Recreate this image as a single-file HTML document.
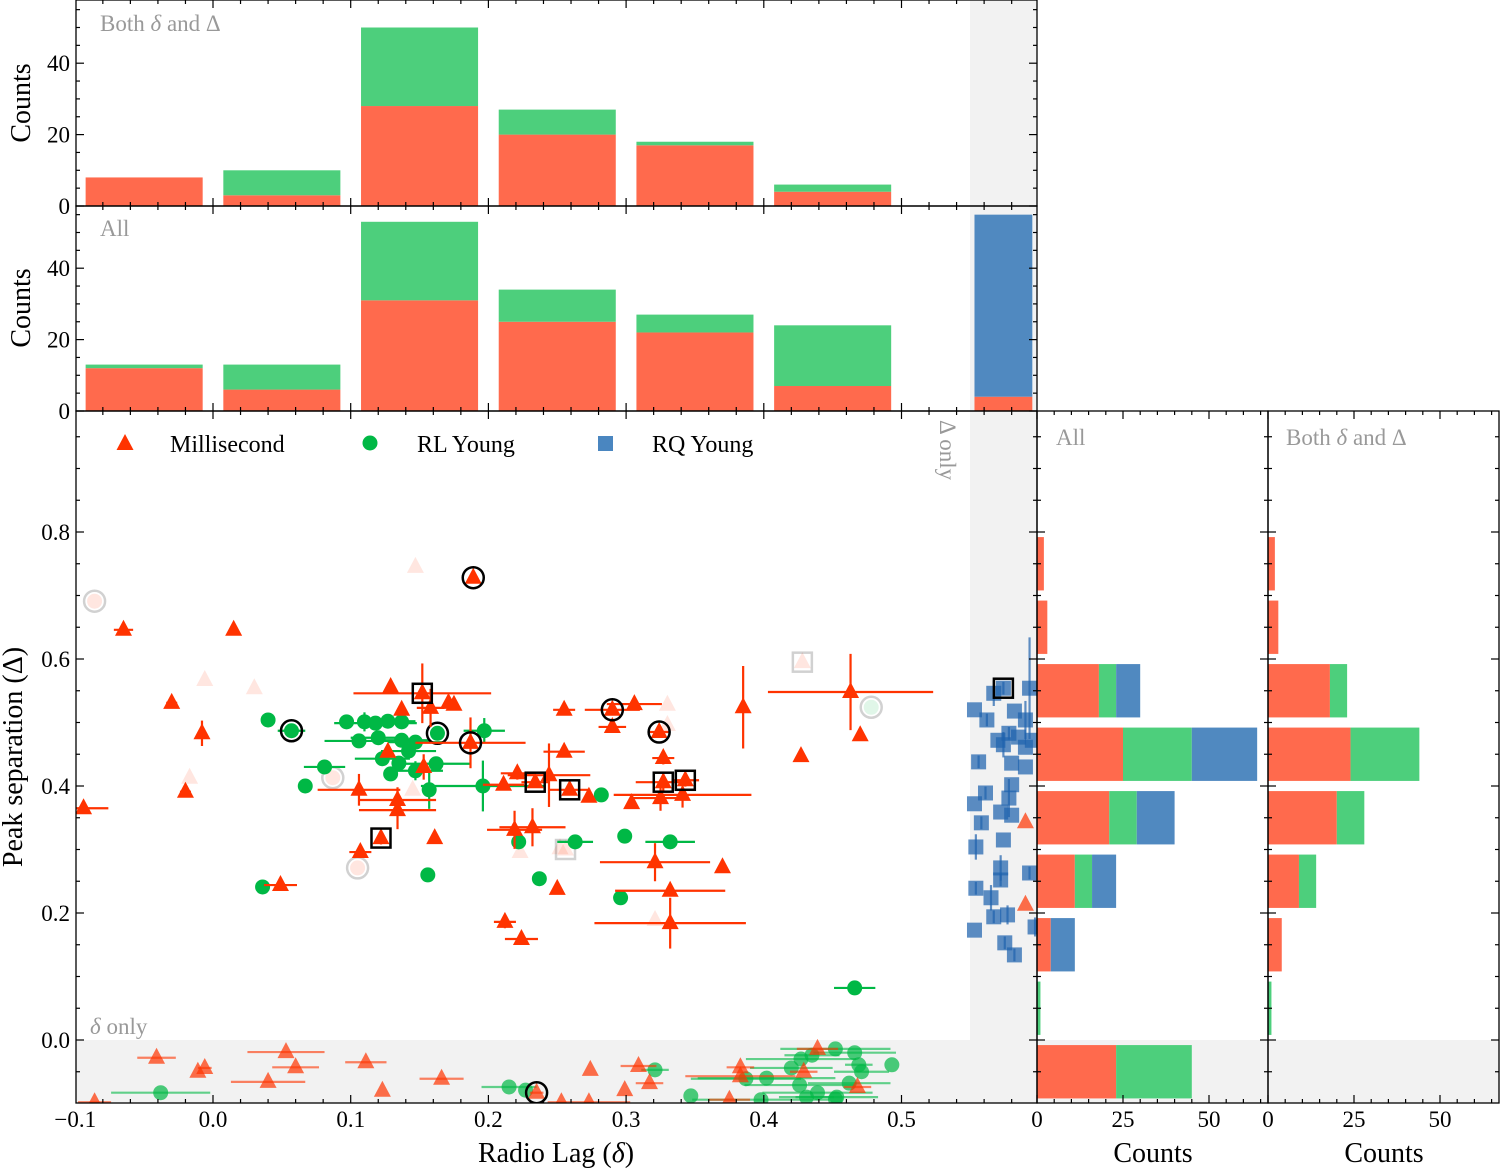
<!DOCTYPE html>
<html><head><meta charset="utf-8"><title>Radio lag vs peak separation</title>
<style>
html,body{margin:0;padding:0;background:#fff;}
svg{display:block;font-family:"Liberation Serif","DejaVu Serif",serif;}
</style></head>
<body>
<svg id="fig" width="1500" height="1170" viewBox="0 0 1500 1170" xmlns="http://www.w3.org/2000/svg">
<g id="bg"></g>
<g id="marks"></g>
<g id="axes"></g>
<g id="labels">
  <text x="100" y="31" font-size="23" fill="#999">Both <tspan font-style="italic">δ</tspan> and Δ</text>
  <text x="100" y="236" font-size="23" fill="#999">All</text>
  <text x="1056" y="445" font-size="23" fill="#999">All</text>
  <text x="1286" y="445" font-size="23" fill="#999">Both <tspan font-style="italic">δ</tspan> and Δ</text>
  <text x="90" y="1034" font-size="23" fill="#999"><tspan font-style="italic">δ</tspan> only</text>
  <text transform="translate(940,420) rotate(90)" font-size="23" fill="#999">Δ only</text>
  <text transform="translate(30,103) rotate(-90)" font-size="28" text-anchor="middle">Counts</text>
  <text transform="translate(30,308) rotate(-90)" font-size="28" text-anchor="middle">Counts</text>
  <text transform="translate(22,757) rotate(-90)" font-size="28" text-anchor="middle">Peak separation (Δ)</text>
  <text x="556" y="1162" font-size="28" text-anchor="middle">Radio Lag (<tspan font-style="italic">δ</tspan>)</text>
  <text x="1153" y="1162" font-size="28" text-anchor="middle">Counts</text>
  <text x="1384" y="1162" font-size="28" text-anchor="middle">Counts</text>
  <g>
    <polygon points="125,434 116.5,450 133.5,450" fill="#ff3300"/>
    <text x="170" y="452" font-size="24">Millisecond</text>
    <circle cx="370" cy="443" r="7.5" fill="#00b845"/>
    <text x="417" y="452" font-size="24">RL Young</text>
    <rect x="598" y="436" width="15" height="15" fill="#4a86c0"/>
    <text x="652" y="452" font-size="24">RQ Young</text>
  </g>
</g>
</svg>
<script>
// ---------- DATA ----------
const topBins = [-0.05, 0.05, 0.15, 0.25, 0.35, 0.45];
const bothMsp = [8, 3, 28, 20, 17, 4];
const bothRl = [0, 7, 22, 7, 1, 2];
const allMsp = [12, 6, 31, 25, 22, 7];
const allRl = [1, 7, 22, 9, 5, 17];
const rqBarX = [0.574];
const rqBarMsp = [4];
const rqBarRq = [51];

const rightBins = [0.75, 0.65, 0.55, 0.45, 0.35, 0.25, 0.15, 0.05, -0.05];
const rAllMsp = [2, 3, 18, 25, 21, 11, 4, 0, 23];
const rAllRl = [0, 0, 5, 20, 8, 5, 0, 1, 22];
const rAllRq = [0, 0, 7, 19, 11, 7, 7, 0, 0];
const rBothMsp = [2, 3, 18, 24, 20, 9, 4, 0, 0];
const rBothRl = [0, 0, 5, 20, 8, 5, 0, 1, 0];

const mspX = [-0.094,-0.065,-0.030,0.015,-0.008,-0.020,0.049,0.107,0.122,0.106,0.134,0.134,0.161,0.129,0.152,0.158,0.171,0.175,0.137,0.189,0.187,0.153,0.127,0.211,0.221,0.219,0.255,0.290,0.290,0.306,0.324,0.327,0.255,0.234,0.244,0.259,0.273,0.304,0.327,0.343,0.325,0.341,0.232,0.321,0.370,0.250,0.332,0.212,0.224,0.332,0.385,0.427,0.463,0.470,0.590,0.590];
const mspY = [0.365,0.646,0.531,0.646,0.483,0.391,0.244,0.296,0.318,0.394,0.378,0.362,0.318,0.556,0.546,0.523,0.531,0.528,0.520,0.728,0.468,0.430,0.454,0.402,0.420,0.331,0.520,0.520,0.493,0.529,0.485,0.444,0.454,0.406,0.417,0.394,0.383,0.373,0.406,0.409,0.381,0.386,0.335,0.280,0.272,0.238,0.235,0.186,0.159,0.184,0.524,0.447,0.548,0.480,0.343,0.213];
const mspXerr = [0.018,0.007,0.004,0,0,0.004,0.012,0.008,0,0.03,0.028,0.028,0,0,0.05,0.01,0,0,0,0,0.04,0,0,0.015,0.012,0.02,0.008,0.02,0.01,0.02,0.008,0.008,0.015,0.01,0.03,0.015,0,0,0.02,0.01,0.02,0.05,0.024,0.04,0,0,0.04,0.008,0.012,0.055,0,0,0.06,0,0,0];
const mspYerr = [0,0,0,0,0.02,0,0,0,0.01,0.025,0.02,0.03,0,0,0.047,0.03,0,0,0,0.008,0.04,0.02,0,0,0.01,0.03,0,0,0,0,0,0.01,0,0,0.05,0,0,0,0.015,0.01,0.02,0.02,0.03,0.03,0,0,0,0.01,0,0.04,0.065,0,0.06,0,0,0];
const mspCircled = [19, 20, 27, 30];
const mspBoxed = [8, 14, 33, 35, 38, 39];

const mspDX = [-0.041,-0.011,-0.006,0.053,0.060,0.040,0.111,0.123,0.166,0.235,0.253,0.273,0.274,0.299,0.309,0.317,0.383,0.383,0.375,0.429,0.439,0.468,-0.086];
const mspDY = [-0.028,-0.050,-0.044,-0.019,-0.043,-0.066,-0.035,-0.080,-0.061,-0.083,-0.098,-0.098,-0.047,-0.079,-0.041,-0.068,-0.043,-0.057,-0.094,-0.050,-0.014,-0.074,-0.098];
const mspDXerr = [0.014,0,0.005,0.028,0.017,0.027,0.015,0,0.016,0.005,0,0.03,0,0,0.013,0.01,0.01,0.04,0.015,0.01,0.015,0.01,0.012];

const rlX = [0.040,0.057,0.081,0.067,0.097,0.110,0.118,0.127,0.137,0.106,0.120,0.137,0.147,0.142,0.163,0.197,0.123,0.135,0.129,0.147,0.162,0.157,0.196,0.156,0.036,0.222,0.282,0.263,0.299,0.332,0.237,0.296,0.466];
const rlY = [0.504,0.487,0.430,0.400,0.501,0.501,0.499,0.502,0.501,0.471,0.476,0.472,0.469,0.455,0.483,0.487,0.443,0.436,0.419,0.424,0.435,0.394,0.400,0.260,0.241,0.312,0.386,0.312,0.321,0.312,0.254,0.224,0.082];
const rlXerr = [0,0.01,0.015,0,0,0,0.03,0.02,0.01,0.025,0.02,0.02,0.02,0.02,0,0.015,0.02,0,0,0.02,0.025,0,0.045,0,0,0,0.005,0.013,0,0.018,0,0,0.015];
const rlYerr = [0,0,0,0,0,0.015,0,0,0,0.01,0,0,0,0,0,0.02,0,0,0,0.015,0,0.03,0.04,0,0,0,0,0,0,0.01,0,0,0];
const rlCircled = [1, 14];

const rlDX = [-0.038,0.215,0.227,0.321,0.347,0.387,0.402,0.398,0.420,0.427,0.426,0.431,0.439,0.452,0.466,0.469,0.471,0.462,0.453,0.452,0.493,0.435];
const rlDY = [-0.083,-0.074,-0.079,-0.047,-0.088,-0.061,-0.060,-0.094,-0.044,-0.030,-0.071,-0.090,-0.083,-0.014,-0.020,-0.039,-0.050,-0.068,-0.090,-0.093,-0.039,-0.024];
const rlDXerr = [0.036,0.02,0,0.01,0,0.04,0.05,0.05,0.03,0.04,0.04,0.02,0.04,0.04,0.03,0.01,0.02,0.03,0.03,0,0,0.02];

const rqX = [0.574,0.567,0.593,0.553,0.562,0.582,0.590,0.570,0.578,0.585,0.595,0.574,0.590,0.556,0.580,0.590,0.580,0.561,0.553,0.578,0.572,0.580,0.558,0.574,0.554,0.572,0.593,0.554,0.565,0.572,0.577,0.567,0.553,0.597,0.575,0.582];
const rqY = [0.554,0.546,0.554,0.520,0.504,0.518,0.504,0.472,0.483,0.477,0.472,0.465,0.461,0.438,0.436,0.430,0.402,0.389,0.372,0.381,0.359,0.354,0.342,0.315,0.304,0.271,0.263,0.239,0.224,0.252,0.197,0.194,0.173,0.178,0.153,0.134];
const rqYerr = [0.01,0.02,0.08,0,0.01,0,0.03,0,0.01,0,0,0.02,0,0.01,0,0,0,0.01,0,0.03,0,0,0.01,0,0.02,0.02,0.01,0.01,0.02,0.01,0.015,0.01,0,0.015,0.01,0.01];
const rqBoxed = [0];

const fadedTriX = [0.147,-0.006,0.030,-0.017,0.330,0.330,0.321,0.223,0.145,0.252];
const fadedTriY = [0.745,0.567,0.554,0.413,0.528,0.496,0.189,0.296,0.394,0.302];
const fadedCircX = [-0.086,0.105,0.478,0.087];
const fadedCircY = [0.691,0.271,0.524,0.413];
const fadedSqX = [0.428,0.256];
const fadedSqY = [0.595,0.300];

const xTicks = [-0.1,0.0,0.1,0.2,0.3,0.4,0.5];
const xTickLabels = ["−0.1","0.0","0.1","0.2","0.3","0.4","0.5"];
const yTicks = [0.0,0.2,0.4,0.6,0.8];
const yTickLabels = ["0.0","0.2","0.4","0.6","0.8"];
const countTicks = [0,20,40];
const rCountTicks = [0,25,50];

// ---------- SCALES ----------
const NS = "http://www.w3.org/2000/svg";
const sx = v => 213 + v * 1377;
const sy = v => 1040 - v * 635;
const h1 = c => 206 - c * 3.57;
const h2 = c => 411 - c * 3.57;
const r1 = c => 1037 + c * 3.44;
const r2 = c => 1268 + c * 3.44;
const RED = "#ff3300", GREEN = "#00b845", BLUE = "#1f62ad";
const HRED = "#ff6a4d", HGREEN = "#4dcf7c", HBLUE = "#5089c0";

function mk(parent, tag, attrs) {
  const el = document.createElementNS(NS, tag);
  for (const k in attrs) el.setAttribute(k, attrs[k]);
  parent.appendChild(el);
  return el;
}
const bg = document.getElementById("bg");
const marks = document.getElementById("marks");
const axes = document.getElementById("axes");

// ---------- GREY BANDS ----------
let b;
b = mk(bg, "rect", {x: 970, y: 0, width: 67, height: 1103, fill: "#f2f2f2"});


b = mk(bg, "rect", {x: 76, y: 1040, width: 894, height: 63, fill: "#f2f2f2"});


b = mk(bg, "rect", {x: 1037, y: 1040, width: 462, height: 63, fill: "#f2f2f2"});



// ---------- TOP HISTOGRAMS ----------
function vbar(x0, w, yb, yt, fill, name) {
  const el = mk(marks, "rect", {x: x0, y: yt, width: w, height: Math.max(0, yb - yt), fill: fill});
  
  
}
topBins.forEach((c, i) => {
  const x0 = sx(c - 0.0425), w = 0.085 * 1377;
  vbar(x0, w, h1(0), h1(bothMsp[i]), HRED, 'both-msp-bar');
  vbar(x0, w, h1(bothMsp[i]), h1(bothMsp[i] + bothRl[i]), HGREEN, 'both-rl-bar');
  vbar(x0, w, h2(0), h2(allMsp[i]), HRED, 'all-msp-bar');
  vbar(x0, w, h2(allMsp[i]), h2(allMsp[i] + allRl[i]), HGREEN, 'all-rl-bar');
});
rqBarX.forEach((c, i) => {
  const x0 = sx(c - 0.021), w = 0.042 * 1377;
  vbar(x0, w, h2(0), h2(rqBarMsp[i]), HRED, 'all-delta-only-msp-bar');
  vbar(x0, w, h2(rqBarMsp[i]), h2(rqBarMsp[i] + rqBarRq[i]), HBLUE, 'all-rq-bar');
});

// ---------- RIGHT HISTOGRAMS ----------
function hbar(xs, c0, c1, yc, fill, name) {
  const yt = sy(yc + 0.042), h = 0.084 * 635;
  const el = mk(marks, "rect", {x: xs(c0), y: yt, width: Math.max(0, xs(c1) - xs(c0)), height: h, fill: fill});
  
  
}
rightBins.forEach((c, i) => {
  hbar(r1, 0, rAllMsp[i], c, HRED, 'right-all-msp-bar');
  hbar(r1, rAllMsp[i], rAllMsp[i] + rAllRl[i], c, HGREEN, 'right-all-rl-bar');
  hbar(r1, rAllMsp[i] + rAllRl[i], rAllMsp[i] + rAllRl[i] + rAllRq[i], c, HBLUE, 'right-all-rq-bar');
  hbar(r2, 0, rBothMsp[i], c, HRED, 'right-both-msp-bar');
  hbar(r2, rBothMsp[i], rBothMsp[i] + rBothRl[i], c, HGREEN, 'right-both-rl-bar');
});

// ---------- SCATTER ----------
const clip = mk(marks, "clipPath", {id: "mainclip"});
mk(clip, "rect", {x: 76, y: 411, width: 961, height: 692});
const sc = mk(marks, "g", {"clip-path": "url(#mainclip)"});



function errbar(x, y, xe, ye, color, op) {
  if (xe > 0) {
    const l = mk(sc, "line", {x1: sx(x - xe), x2: sx(x + xe), y1: sy(y), y2: sy(y), stroke: color, "stroke-width": 2.2, opacity: op});
    
    
  }
  if (ye > 0) {
    const l = mk(sc, "line", {x1: sx(x), x2: sx(x), y1: sy(y - ye), y2: sy(y + ye), stroke: color, "stroke-width": 2.2, opacity: op});
    
    
  }
}
function tri(x, y, fill, op, name) {
  const cx = sx(x), cy = sy(y);
  const el = mk(sc, "polygon", {points: `${cx},${cy - 10} ${cx - 8.5},${cy + 6} ${cx + 8.5},${cy + 6}`, fill: fill, opacity: op});
  
  
}
function circ(x, y, fill, op, name) {
  const el = mk(sc, "circle", {cx: sx(x), cy: sy(y), r: 7.5, fill: fill, opacity: op});
  
  
}
function sq(x, y, fill, op, name) {
  const el = mk(sc, "rect", {x: sx(x) - 7.5, y: sy(y) - 7.5, width: 15, height: 15, fill: fill, opacity: op});
  
  
}
function ring(x, y, col, op) {
  const el = mk(sc, "circle", {cx: sx(x), cy: sy(y), r: 10.5, fill: "none", stroke: col, "stroke-width": 2.5, opacity: op});
  
  
}
function box(x, y, col, op) {
  const el = mk(sc, "rect", {x: sx(x) - 9.5, y: sy(y) - 9.5, width: 19, height: 19, fill: "none", stroke: col, "stroke-width": 2.5, opacity: op});
  
  
}

// faded points
fadedTriX.forEach((x, i) => tri(x, fadedTriY[i], RED, 0.12, 'faded-msp-point'));
fadedCircX.forEach((x, i) => { circ(x, fadedCircY[i], i == 2 ? GREEN : RED, 0.12, 'faded-point'); ring(x, fadedCircY[i], "#000", 0.18); });
fadedSqX.forEach((x, i) => { tri(fadedSqX[i], fadedSqY[i], RED, 0.12, 'faded-msp-point'); box(x, fadedSqY[i], "#000", 0.18); });

// delta-only
rlDX.forEach((x, i) => errbar(x, rlDY[i], rlDXerr[i], 0, GREEN, 0.6));
rlDX.forEach((x, i) => circ(x, rlDY[i], GREEN, 0.7, 'rl-delta-only-point'));
mspDX.forEach((x, i) => errbar(x, mspDY[i], mspDXerr[i], 0, RED, 0.6));
mspDX.forEach((x, i) => tri(x, mspDY[i], RED, 0.7, 'msp-delta-only-point'));
ring(mspDX[9], mspDY[9], "#000", 1);

// RQ
rqX.forEach((x, i) => errbar(x, rqY[i], 0, rqYerr[i], BLUE, 0.7));
rqX.forEach((x, i) => sq(x, rqY[i], BLUE, 0.72, 'rq-point'));
rqBoxed.forEach(i => box(rqX[i], rqY[i], "#000", 1));

// RL main
rlX.forEach((x, i) => errbar(x, rlY[i], rlXerr[i], rlYerr[i], GREEN, 1));
rlX.forEach((x, i) => circ(x, rlY[i], GREEN, 1, 'rl-point'));
rlCircled.forEach(i => ring(rlX[i], rlY[i], "#000", 1));

// MSP main
mspX.forEach((x, i) => errbar(x, mspY[i], mspXerr[i], mspYerr[i], RED, 1));
mspX.forEach((x, i) => tri(x, mspY[i], RED, x > 0.55 ? 0.7 : 1, 'msp-point'));
mspCircled.forEach(i => ring(mspX[i], mspY[i], "#000", 1));
mspBoxed.forEach(i => box(mspX[i], mspY[i], "#000", 1));

// ---------- AXES ----------
function frame(x, y, w, h, name) {
  const el = mk(axes, "rect", {x: x, y: y, width: w, height: h, fill: "none", stroke: "#000", "stroke-width": 1.3});
  
  
}
function tk(x1, y1, x2, y2) {
  const el = mk(axes, "line", {x1: x1, y1: y1, x2: x2, y2: y2, stroke: "#000", "stroke-width": 1.2});
  
  
}
function lbl(x, y, s, anchor, name) {
  const el = mk(axes, "text", {x: x, y: y, "font-size": 23, "text-anchor": anchor});
  el.textContent = s;
  
  
}
frame(76, 0, 961, 206, 'top-hist-both-axes');
frame(76, 206, 961, 205, 'top-hist-all-axes');
frame(76, 411, 961, 692, 'main-scatter-axes');
frame(1037, 411, 231, 692, 'right-hist-all-axes');
frame(1268, 411, 231, 692, 'right-hist-both-axes');

// x ticks (shared by 3 stacked panels)
for (let k = -5; k <= 29; k++) {
  const v = k * 0.02, px = sx(v);
  if (px < 76 || px > 1037) continue;
  const major = k % 5 === 0, L = major ? 8 : 4;
  [[0, 206], [206, 411], [411, 1103]].forEach(([t, bt]) => { tk(px, bt, px, bt - L); tk(px, t, px, t + L); });
}
xTicks.forEach((v, i) => lbl(sx(v), 1127, xTickLabels[i], "middle", 'x-tick-label'));
// main y ticks
for (let k = -2; k <= 19; k++) {
  const v = k * 0.05, py = sy(v);
  if (py < 411 || py > 1103) continue;
  const major = k % 4 === 0, L = major ? 8 : 4;
  tk(76, py, 76 + L, py); tk(1037, py, 1037 - L, py);
  tk(1037, py, 1037 + L, py); tk(1268, py, 1268 - L, py);
  tk(1268, py, 1268 + L, py); tk(1499, py, 1499 - L, py);
}
yTicks.forEach((v, i) => lbl(70, sy(v) + 8, yTickLabels[i], "end", 'y-tick-label'));
// count ticks on top hists
for (let c = 0; c <= 55; c += 5) {
  const major = c % 20 === 0, L = major ? 8 : 4;
  if (h1(c) >= 0) { tk(76, h1(c), 76 + L, h1(c)); tk(1037, h1(c), 1037 - L, h1(c)); }
  if (h2(c) >= 206) { tk(76, h2(c), 76 + L, h2(c)); tk(1037, h2(c), 1037 - L, h2(c)); }
}
countTicks.forEach(c => { lbl(70, h1(c) + 8, String(c), "end", 'count-tick-label'); lbl(70, h2(c) + 8, String(c), "end", 'count-tick-label'); });
// right hist count ticks
for (let c = 0; c <= 65; c += 5) {
  const major = c % 25 === 0, L = major ? 8 : 4;
  if (r1(c) <= 1268) { tk(r1(c), 1103, r1(c), 1103 - L); tk(r1(c), 411, r1(c), 411 + L); }
  if (r2(c) <= 1499) { tk(r2(c), 1103, r2(c), 1103 - L); tk(r2(c), 411, r2(c), 411 + L); }
}
rCountTicks.forEach(c => { lbl(r1(c), 1127, String(c), "middle", 'right-count-tick-label'); lbl(r2(c), 1127, String(c), "middle", 'right-count-tick-label'); });
</script>
</body></html>
